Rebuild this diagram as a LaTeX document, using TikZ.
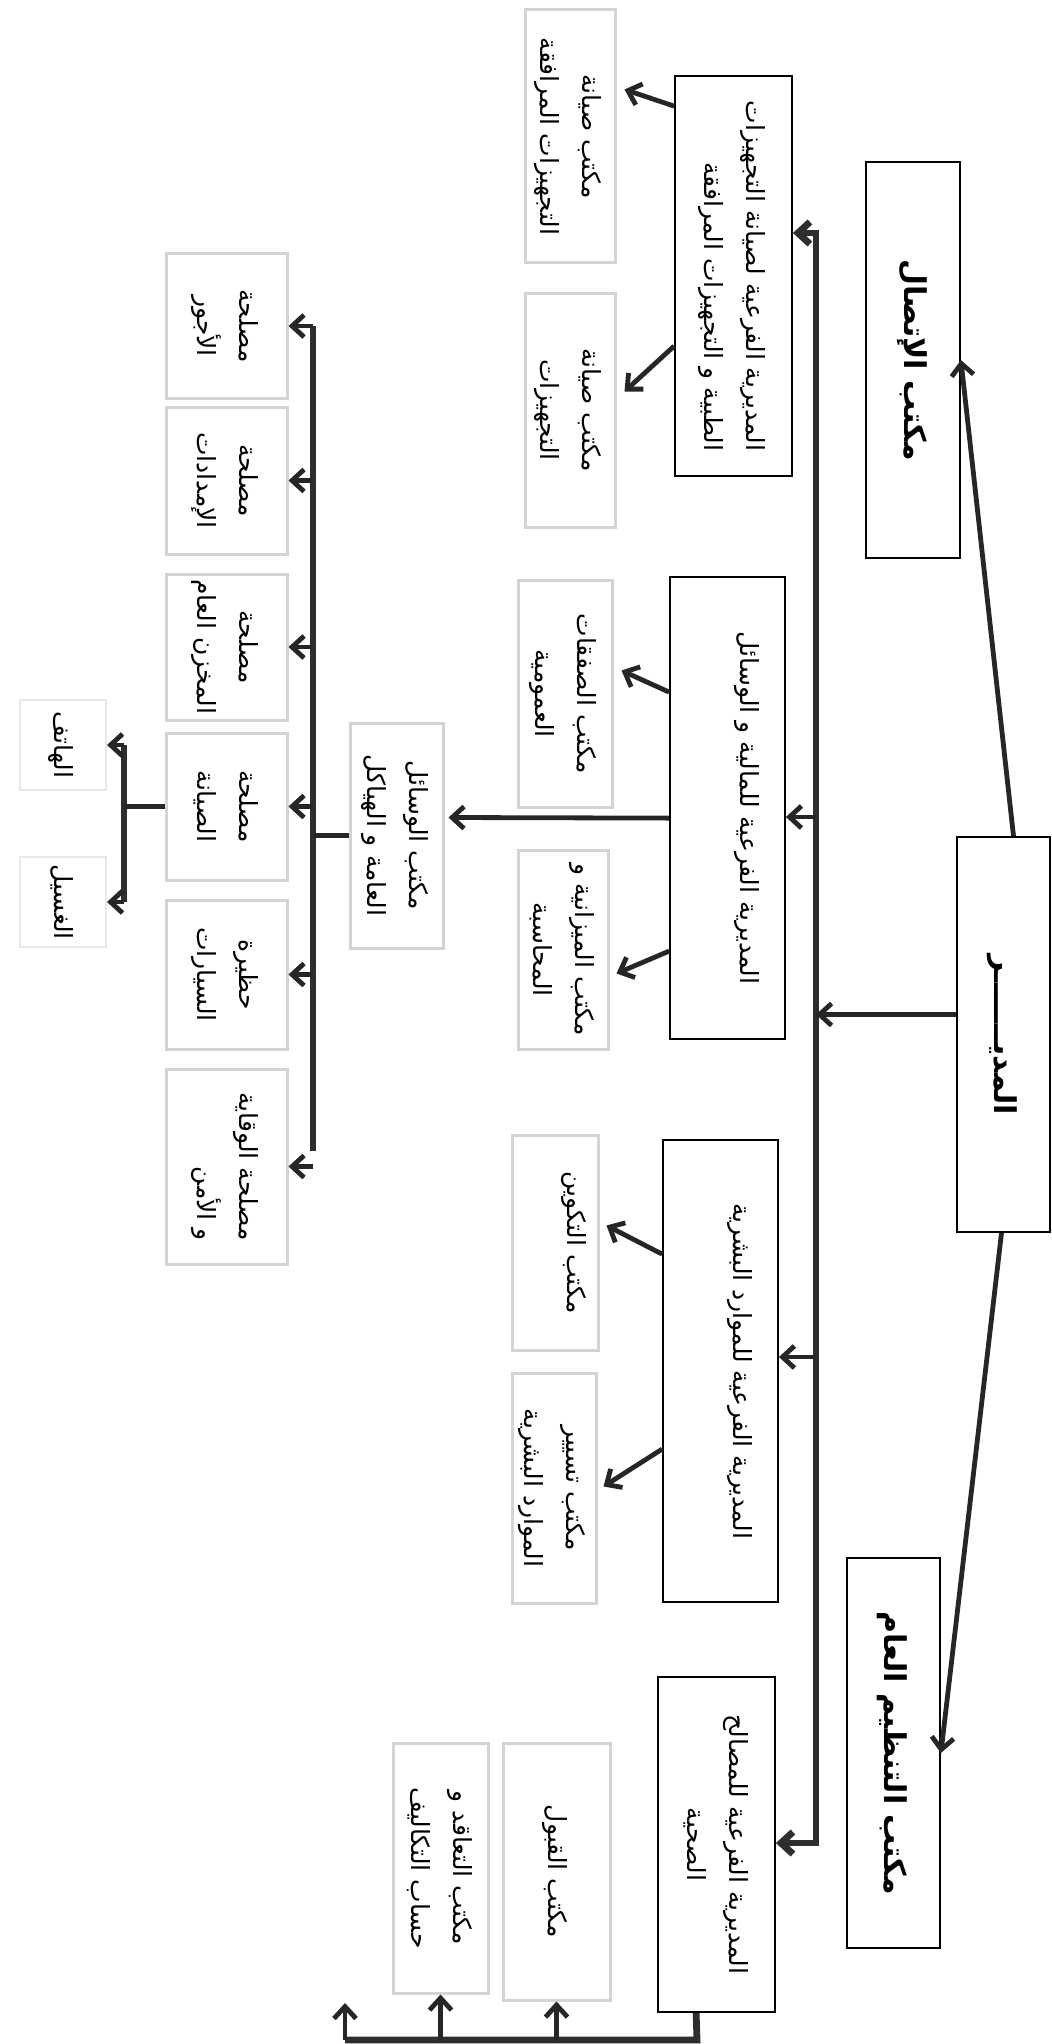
\documentclass[tikz,border=0pt]{standalone}
\usepackage{fontspec}
\usepackage{graphicx}
\usetikzlibrary{arrows.meta,calc}
\TeXXeTstate=1
\newfontfamily\arabicfont[Script=Arabic]{DejaVu Sans}
\newcommand{\AR}[1]{\beginR #1\endR}
\newcommand{\normsize}{\fontsize{12.5}{21}\selectfont}
\newcommand{\bigsize}{\fontsize{15}{22}\selectfont\bfseries}
% rotated label: #1 size, #2 column alignment, #3 rows
\newcommand{\vlab}[3]{\rotatebox{-90}{\arabicfont#1\begin{tabular}{@{}#2@{}}#3\end{tabular}}}

\begin{document}
\begin{tikzpicture}[x=0.5pt,y=-0.5pt,
  conn/.style={draw=black!85,line width=2.4pt},
  arr/.style={conn,-{Straight Barb[length=6pt,width=11pt]}},
  busline/.style={draw=black!82,line width=3.4pt},
  mainbox/.style={draw=black,line width=0.9pt,fill=white,inner sep=0pt},
  subbox/.style={draw=black!17,line width=1.5pt,inner sep=0pt},
  faintbox/.style={draw=black!9,line width=1pt,inner sep=0pt}]

\fill[white] (0,0) rectangle (1052,2044);
\useasboundingbox (0,0) rectangle (1052,2044);

% ---- top level ----
\node[mainbox,minimum width=47pt,minimum height=198pt] (L) at (913,360)
  {\vlab{\bigsize}{c}{\AR{مكتب الإتصال}}};
\node[mainbox,minimum width=46.5pt,minimum height=197.5pt] (R) at (1003.5,1034.5)
  {\vlab{\bigsize}{c}{\AR{المديـــــــر}}};
\node[mainbox,minimum width=46.5pt,minimum height=195pt] (O) at (893.5,1753)
  {\vlab{\bigsize}{c}{\AR{مكتب التنظيم العام}}};

% ---- sub-directorates ----
\node[mainbox,minimum width=58.5pt,minimum height=200pt] (D1) at (733.5,276)
  {\vlab{\normsize}{r}{\AR{المديرية الفرعية لصيانة التجهيزات}\\\AR{الطبية و التجهيزات المرافقة}}};
\node[mainbox,minimum width=57.5pt,minimum height=231pt] (D2) at (727.5,808)
  {\vlab{\normsize}{c}{\AR{المديرية الفرعية للمالية و الوسائل}\\\mbox{}}};
\node[mainbox,minimum width=57.5pt,minimum height=231pt] (D3) at (720.5,1371)
  {\vlab{\normsize}{c}{\AR{المديرية الفرعية للموارد البشرية}\\\mbox{}}};
\node[mainbox,minimum width=58.5pt,minimum height=167.5pt] (D4) at (716.5,1844.5)
  {\vlab{\normsize}{c}{\AR{المديرية الفرعية للمصالح}\\\AR{الصحية}}};

% ---- offices ----
\node[subbox,minimum width=45pt,minimum height=126.5pt] (C1a) at (570,136.5)
  {\vlab{\normsize}{c}{\AR{مكتب صيانة}\\\AR{التجهيزات المرافقة}}};
\node[subbox,minimum width=45pt,minimum height=117pt] (C1b) at (570,410)
  {\vlab{\normsize}{c}{\AR{مكتب صيانة}\\\AR{التجهيزات}}};
\node[subbox,minimum width=47pt,minimum height=113.5pt] (C2a) at (565,693.5)
  {\vlab{\normsize}{c}{\AR{مكتب الصفقات}\\\AR{العمومية}}};
\node[subbox,minimum width=45pt,minimum height=99.5pt] (C2b) at (563,949.5)
  {\vlab{\normsize}{c}{\AR{مكتب الميزانية و}\\\AR{المحاسبة}}};
\node[subbox,minimum width=46.5pt,minimum height=112.5pt] (C2c) at (396.5,835.5)
  {\vlab{\normsize}{c}{\AR{مكتب الوسائل}\\\AR{العامة و الهياكل}}};
\node[subbox,minimum width=43pt,minimum height=107.5pt] (C3a) at (555,1242.5)
  {\vlab{\normsize}{c}{\AR{مكتب التكوين}\\\mbox{}}};
\node[subbox,minimum width=42pt,minimum height=115pt] (C3b) at (554,1488)
  {\vlab{\normsize}{c}{\AR{مكتب تسيير}\\\AR{الموارد البشرية}}};
\node[subbox,minimum width=53.5pt,minimum height=128.5pt] (C4a) at (556.5,1871.5)
  {\vlab{\normsize}{c}{\AR{مكتب القبول}}};
\node[subbox,minimum width=47.5pt,minimum height=125pt] (C4b) at (440.5,1868)
  {\vlab{\normsize}{c}{\AR{مكتب التعاقد و}\\\AR{حساب التكاليف}}};

% ---- services ----
\node[subbox,minimum width=60.5pt,minimum height=72pt] (S1) at (226.5,326)
  {\vlab{\normsize}{c}{\AR{مصلحة}\\\AR{الأجور}}};
\node[subbox,minimum width=60.5pt,minimum height=73.5pt] (S2) at (226.5,480.5)
  {\vlab{\normsize}{c}{\AR{مصلحة}\\\AR{الإمدادات}}};
\node[subbox,minimum width=60.5pt,minimum height=73pt] (S3) at (226.5,647)
  {\vlab{\normsize}{c}{\AR{مصلحة}\\\AR{المخزن العام}}};
\node[subbox,minimum width=60.5pt,minimum height=73.5pt] (S4) at (226.5,806.5)
  {\vlab{\normsize}{c}{\AR{مصلحة}\\\AR{الصيانة}}};
\node[subbox,minimum width=60.5pt,minimum height=74.5pt] (S5) at (226.5,974.5)
  {\vlab{\normsize}{c}{\AR{حظيرة}\\\AR{السيارات}}};
\node[subbox,minimum width=60.5pt,minimum height=97.5pt] (S6) at (226.5,1166.5)
  {\vlab{\normsize}{r}{\AR{مصلحة الوقاية}\\\AR{و الأمن}}};
\node[faintbox,minimum width=43pt,minimum height=45pt] (T) at (63,745)
  {\vlab{\normsize}{c}{\AR{الهاتف}}};
\node[faintbox,minimum width=43pt,minimum height=45pt] (W) at (63,902)
  {\vlab{\normsize}{c}{\AR{الغسيل}}};

% ---- connectors ----
\draw[arr] ($(R.north)+(10,0)$) -- (L.east);
\draw[arr] ($(R.south)+(-2,0)$) -- (O.east);

\coordinate (busTop) at (816,233);
\coordinate (busBot) at (816,1843);
\coordinate (busD2) at (816,817);
\coordinate (busD3) at (816,1357);
\coordinate (rw) at ($(R.west)+(0,-20)$);
\draw[busline,{Straight Barb[length=6pt,width=11pt]}-{Straight Barb[length=6pt,width=11pt]}]
  (D1.east |- busTop) -- (busTop) -- (busBot) -- (D4.east |- busBot);
\draw[arr] (rw) -- (rw -| busTop);
\draw[arr] (busD2) -- (busD2 -| D2.east);
\draw[arr] (busD3) -- (busD3 -| D3.east);

\draw[arr] ($(D1.north west)+(0,31)$) -- ($(C1a.north east)+(8,81)$);
\draw[arr] ($(D1.north west)+(0,271)$) -- ($(C1b.north east)+(8,100)$);
\draw[arr] ($(D2.north west)+(0,116)$) -- ($(C2a.north east)+(8,92)$);
\draw[arr] ($(D2.north west)+(0,375)$) -- ($(C2b.north east)+(7,125)$);
\draw[arr] ($(D2.north west)+(0,242)$) -- ($(C2c.north east)+(4,96)$);
\draw[arr] ($(D3.north west)+(0,115)$) -- ($(C3a.north east)+(7,92)$);
\draw[arr] ($(D3.north west)+(0,310)$) -- ($(C3b.north east)+(6,115)$);

% services bus
\coordinate (sbTop) at (313,326);
\coordinate (sbBot) at (313,1151);
\draw[busline] (sbTop) -- (sbBot);
\draw[conn] (C2c.west) -- (C2c.west -| sbTop);
\foreach \s in {S1,S2,S3,S4,S5,S6}
  \draw[arr] (\s.east -| sbTop) -- (\s.east);

% maintenance sub-bus
\coordinate (tbTop) at (124,745);
\coordinate (tbBot) at (124,902);
\draw[busline] (tbTop) -- (tbBot);
\draw[conn] (S4.west) -- (S4.west -| tbTop);
\draw[arr] (tbTop) -- (T.east);
\draw[arr] (tbBot) -- (W.east);

% health services bus
\coordinate (hbR) at (697,2040);
\coordinate (hbL) at (345,2040);
\coordinate (hbTip) at (345,2003);
\draw[busline] ($(D4.south west)+(39,0)$) -- (hbR) -- (hbL);
\draw[arr] (C4a.south |- hbR) -- (C4a.south);
\draw[arr] (C4b.south |- hbR) -- (C4b.south);
\draw[arr] (hbL) -- (hbTip);
\end{tikzpicture}
\end{document}
